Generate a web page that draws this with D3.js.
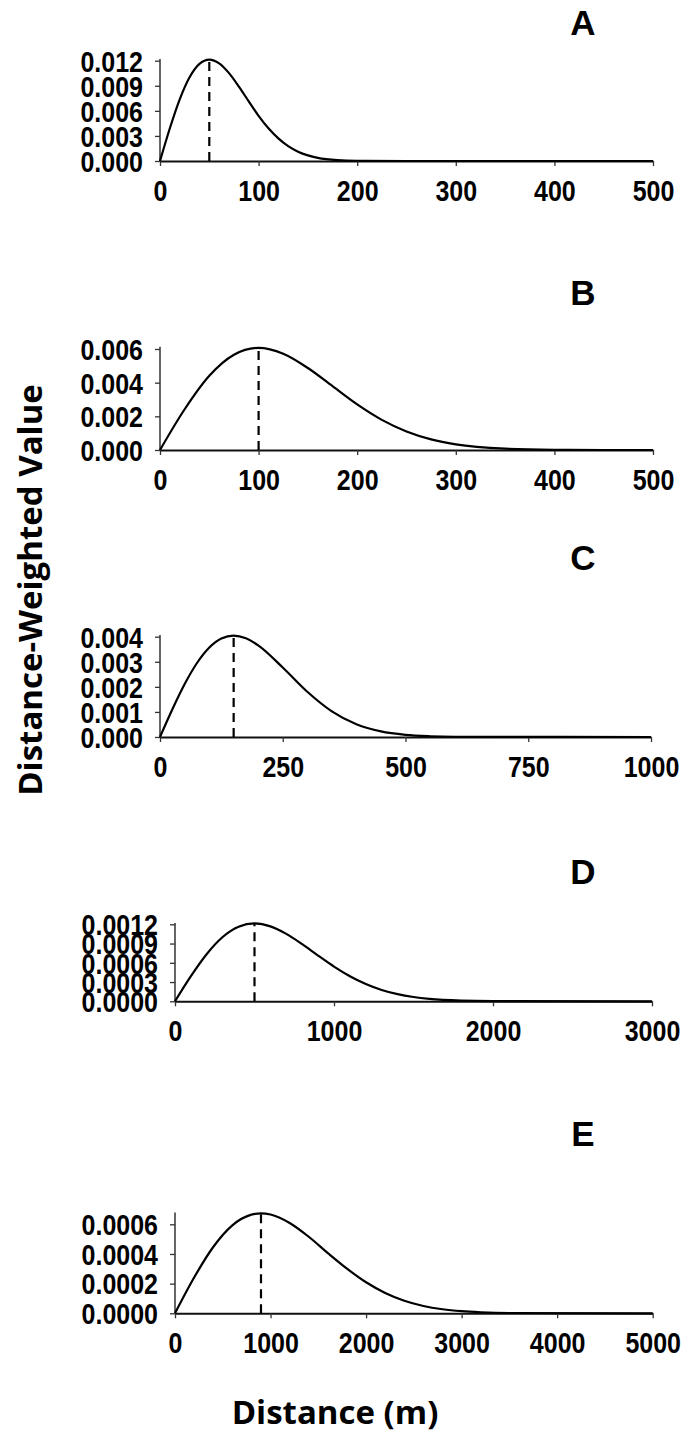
<!DOCTYPE html>
<html>
<head>
<meta charset="utf-8">
<script src="https://cdn.jsdelivr.net/npm/d3@7"></script>
<style>
  html, body { margin: 0; padding: 0; background: #fff; }
  svg { display: block; }
  .tick text { font-family: "Liberation Sans", Arial, sans-serif; font-weight: bold; font-size: 25px; fill: #000; }
  .title { font-family: "Open Sans", "Noto Sans", sans-serif; font-weight: bold; font-size: 33px; fill: #000; }
  .panel-letter { font-family: "Liberation Sans", Arial, sans-serif; font-weight: bold; font-size: 35px; fill: #000; }
</style>
</head>
<body>
<svg id="chart" width="683" height="1448"></svg>
<script>
// Distance-weighted value curves for five dispersal scales (A–E)
const panelLetters = ["A", "B", "C", "D", "E"];

// Panel A
const distA = [0, 10, 20, 30, 40, 50, 60, 70, 80, 90, 100, 110, 120, 130, 140, 150, 160, 180, 200, 250, 500];
const valueA = [0, 0.00392, 0.00738, 0.01002, 0.01162, 0.01213, 0.01168, 0.01051, 0.00890, 0.00713, 0.00541,
                0.00391, 0.00270, 0.00177, 0.00111, 0.00067, 0.00038, 0.00011, 0.00003, 0, 0];
const modeA = 50;
const xTicksA = [0, 100, 200, 300, 400, 500];
const yTicksA = [0, 0.003, 0.006, 0.009, 0.012];

// Panel B
const distB = [0, 25, 50, 75, 100, 125, 150, 175, 200, 225, 250, 275, 300, 350, 400, 450, 500];
const valueB = [0, 0.00242, 0.00441, 0.00566, 0.00607, 0.00572, 0.00487, 0.00379, 0.00271, 0.00179, 0.00110,
                0.00063, 0.00033, 0.000077, 0.000013, 0, 0];
const modeB = 100;
const xTicksB = [0, 100, 200, 300, 400, 500];
const yTicksB = [0, 0.002, 0.004, 0.006];

// Panel C
const distC = [0, 25, 50, 75, 100, 125, 150, 175, 200, 250, 300, 350, 400, 450, 500, 550, 600, 1000];
const valueC = [0, 0.001096, 0.002102, 0.002941, 0.003559, 0.003927, 0.004043, 0.003937, 0.003654, 0.002772,
                0.001804, 0.001023, 0.000508, 0.000222, 0.000086, 0.00003, 0.00001, 0];
const modeC = 150;
const xTicksC = [0, 250, 500, 750, 1000];
const yTicksC = [0, 0.001, 0.002, 0.003, 0.004];

// Panel D
const distD = [0, 100, 200, 300, 400, 500, 600, 700, 800, 900, 1000, 1100, 1200, 1300, 1400, 1500, 1600, 1800, 2000, 3000];
const valueD = [0, 0.000392, 0.000738, 0.001002, 0.001162, 0.001213, 0.001168, 0.001051, 0.000890, 0.000713,
                0.000541, 0.000391, 0.000270, 0.000177, 0.000111, 0.000067, 0.000038, 0.000011, 0.000003, 0];
const modeD = 500;
const xTicksD = [0, 1000, 2000, 3000];
const yTicksD = [0, 0.0003, 0.0006, 0.0009, 0.0012];

// Panel E
const distE = [0, 200, 400, 600, 800, 900, 1000, 1200, 1400, 1600, 1800, 2000, 2200, 2400, 2600, 2800, 3000, 3200, 3500, 5000];
const valueE = [0, 0.000241, 0.000447, 0.000593, 0.000665, 0.000674, 0.000666, 0.000609, 0.000516, 0.000406,
                0.000301, 0.000209, 0.000137, 0.0000847, 0.0000494, 0.0000273, 0.0000143, 0.000007, 0.000002, 0];
const modeE = 900;
const xTicksE = [0, 1000, 2000, 3000, 4000, 5000];
const yTicksE = [0, 0.0002, 0.0004, 0.0006];

const panels = [
  { letter: panelLetters[0], dist: distA, value: valueA, mode: modeA, xTicks: xTicksA, yTicks: yTicksA, yFmt: ".3f",
    left: 160, right: 653, base: 161, topTickY: 60.7, axisTop: 0.0122, letterY: 35 },
  { letter: panelLetters[1], dist: distB, value: valueB, mode: modeB, xTicks: xTicksB, yTicks: yTicksB, yFmt: ".3f",
    left: 160, right: 653, base: 450, topTickY: 349, axisTop: 0.00614, letterY: 305 },
  { letter: panelLetters[2], dist: distC, value: valueC, mode: modeC, xTicks: xTicksC, yTicks: yTicksC, yFmt: ".3f",
    left: 160, right: 651, base: 737, topTickY: 636.7, axisTop: 0.00407, letterY: 570 },
  { letter: panelLetters[3], dist: distD, value: valueD, mode: modeD, xTicks: xTicksD, yTicks: yTicksD, yFmt: ".4f",
    left: 175, right: 652, base: 1001.3, topTickY: 924.3, axisTop: 0.00122, letterY: 884 },
  { letter: panelLetters[4], dist: distE, value: valueE, mode: modeE, xTicks: xTicksE, yTicks: yTicksE, yFmt: ".4f",
    left: 175, right: 652.7, base: 1313.3, topTickY: 1224.3, axisTop: 0.00068, letterY: 1146 }
];

// tick numerals are drawn slightly tall and narrow
const numeralStretch = "scale(1,1.15)";

const svg = d3.select("#chart");

panels.forEach(p => {
  const xMax = p.xTicks[p.xTicks.length - 1];
  const yTopTick = p.yTicks[p.yTicks.length - 1];
  const x = d3.scaleLinear().domain([0, xMax]).range([p.left, p.right]);
  const y = d3.scaleLinear().domain([0, yTopTick]).range([p.base, p.topTickY]);

  const g = svg.append("g");

  // y axis
  const yAxis = g.append("g")
    .attr("transform", `translate(${p.left},0)`)
    .call(d3.axisLeft(y).tickValues(p.yTicks).tickFormat(d3.format(p.yFmt)).tickSize(5).tickPadding(12).tickSizeOuter(0));
  yAxis.select(".domain").remove();
  yAxis.selectAll(".tick line").attr("stroke", "#333").attr("stroke-width", 1.3);
  yAxis.selectAll(".tick text").attr("dy", "0.36em").attr("transform", numeralStretch);
  g.append("line")
    .attr("x1", p.left).attr("x2", p.left)
    .attr("y1", y(0)).attr("y2", y(p.axisTop))
    .attr("stroke", "#333").attr("stroke-width", 1.5);

  // x axis
  const xAxis = g.append("g")
    .attr("transform", `translate(0,${p.base})`)
    .call(d3.axisBottom(x).tickValues(p.xTicks).tickFormat(d3.format("d")).tickSize(5).tickPadding(12).tickSizeOuter(0));
  xAxis.select(".domain").attr("stroke", "#111").attr("stroke-width", 2);
  xAxis.selectAll(".tick line").attr("stroke", "#333").attr("stroke-width", 1.3);
  xAxis.selectAll(".tick text").attr("transform", numeralStretch);

  // curve
  const pts = p.dist.map((d, i) => [d, p.value[i]]);
  g.append("path")
    .datum(pts)
    .attr("fill", "none")
    .attr("stroke", "#000")
    .attr("stroke-width", 2.2)
    .attr("d", d3.line().x(d => x(d[0])).y(d => y(d[1])).curve(d3.curveMonotoneX));

  // dashed line at the mode
  const peak = p.value[p.dist.indexOf(p.mode)];
  g.append("line")
    .attr("x1", x(p.mode)).attr("x2", x(p.mode))
    .attr("y1", y(0)).attr("y2", y(peak))
    .attr("stroke", "#000").attr("stroke-width", 2.2)
    .attr("stroke-dasharray", "9,6");

  // panel letter
  g.append("text")
    .attr("class", "panel-letter")
    .attr("x", 583).attr("y", p.letterY)
    .attr("text-anchor", "middle")
    .text(p.letter);
});

// axis titles
svg.append("text")
  .attr("class", "title")
  .attr("transform", "translate(42,590) rotate(-90)")
  .attr("text-anchor", "middle")
  .text("Distance-Weighted Value");

svg.append("text")
  .attr("class", "title")
  .attr("x", 335).attr("y", 1424)
  .attr("text-anchor", "middle")
  .text("Distance (m)");
</script>
</body>
</html>
